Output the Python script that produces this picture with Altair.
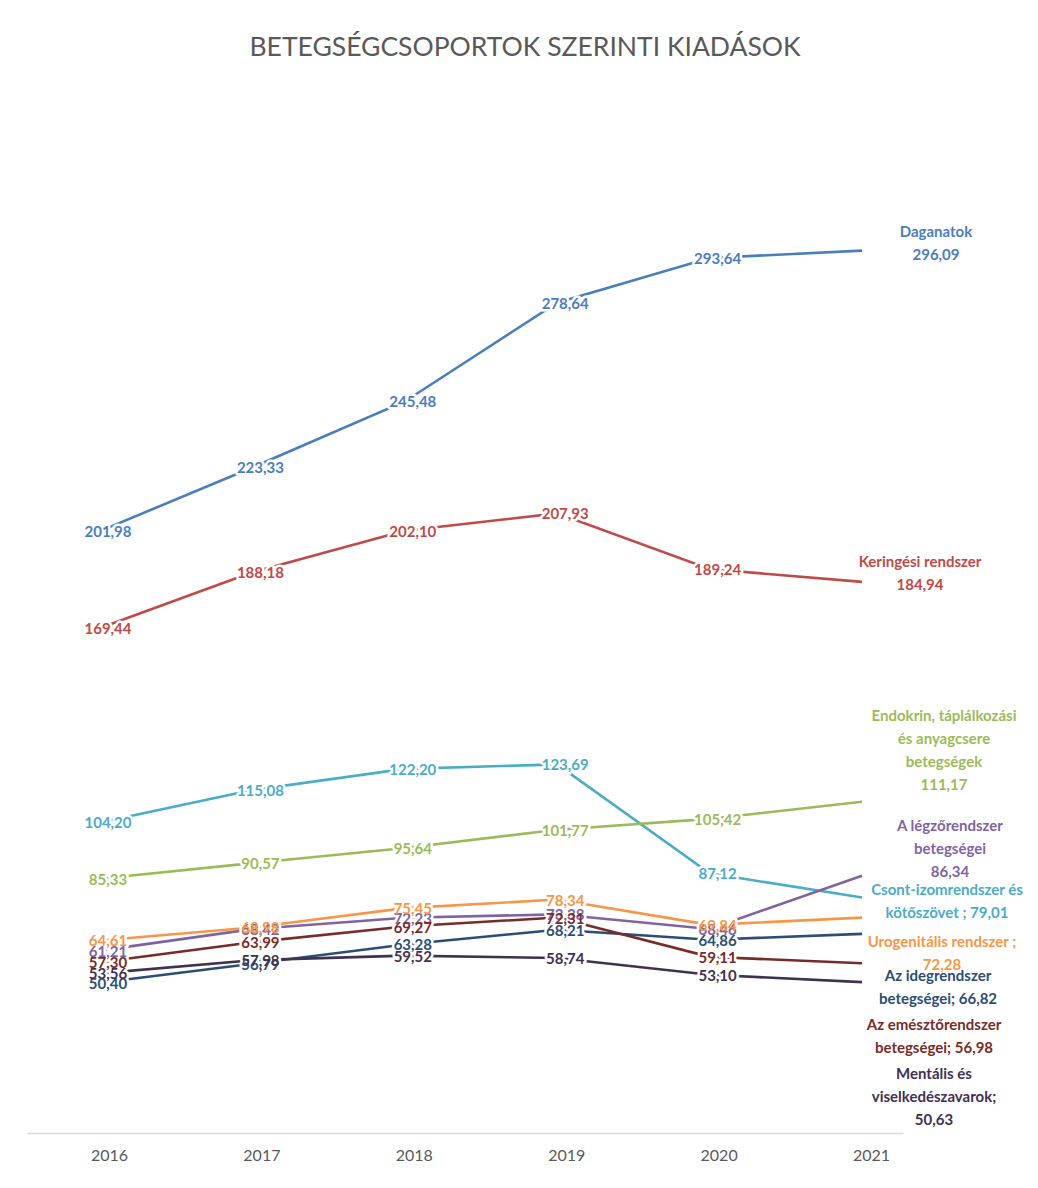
import altair as alt
import pandas as pd

# ---------------- data ----------------
years = [2016, 2017, 2018, 2019, 2020, 2021]

series_names = [
    "Daganatok",
    "Keringési rendszer",
    "Csont-izomrendszer és kötőszövet",
    "Endokrin, táplálkozási és anyagcsere betegségek",
    "A légzőrendszer betegségei",
    "Urogenitális rendszer",
    "Az idegrendszer betegségei",
    "Az emésztőrendszer betegségei",
    "Mentális és viselkedészavarok",
]

daganatok = [201.98, 223.33, 245.48, 278.64, 293.64, 296.09]
keringesi = [169.44, 188.18, 202.10, 207.93, 189.24, 184.94]
csont = [104.20, 115.08, 122.20, 123.69, 87.12, 79.01]
endokrin = [85.33, 90.57, 95.64, 101.77, 105.42, 111.17]
legzo = [61.21, 68.42, 72.23, 73.38, 68.46, 86.34]
uro = [64.61, 68.98, 75.45, 78.34, 69.84, 72.28]
ideg = [50.40, 56.79, 63.28, 68.21, 64.86, 66.82]
emeszto = [57.30, 63.99, 69.27, 72.31, 59.11, 56.98]
mentalis = [53.56, 57.98, 59.52, 58.74, 53.10, 50.63]

values = [daganatok, keringesi, csont, endokrin, legzo, uro, ideg, emeszto, mentalis]

# end-of-line label texts (lines separated by \n)
end_texts = [
    "Daganatok\n296,09",
    "Keringési rendszer\n184,94",
    "Csont-izomrendszer és\nkötőszövet ; 79,01",
    "Endokrin, táplálkozási\nés anyagcsere\nbetegségek\n111,17",
    "A légzőrendszer\nbetegségei\n86,34",
    "Urogenitális rendszer ;\n72,28",
    "Az idegrendszer\nbetegségei; 66,82",
    "Az emésztőrendszer\nbetegségei; 56,98",
    "Mentális és\nviselkedészavarok;\n50,63",
]

colors = [
    "#4a7ebb",  # Daganatok
    "#be4b48",  # Keringési
    "#4bacc6",  # Csont-izom
    "#9bbb59",  # Endokrin
    "#8064a2",  # Légző
    "#f79646",  # Uro
    "#2c4d75",  # Ideg
    "#772c2a",  # Emésztő
    "#3f3151",  # Mentális
]

# ---------------- styling (pixel offsets of the end-label block centres) ----------------
LINE_H = 23
end_offsets = {
    "Daganatok": (74, -7),
    "Keringési rendszer": (58, -8),
    "Csont-izomrendszer és kötőszövet": (85, 4),
    "Endokrin, táplálkozási és anyagcsere betegségek": (82, -51),
    "A légzőrendszer betegségei": (88, -27),
    "Urogenitális rendszer": (80, 36),
    "Az idegrendszer betegségei": (76, 54),
    "Az emésztőrendszer betegségei": (72, 73),
    "Mentális és viselkedészavarok": (72, 115),
}

rows = []
for name, vals in zip(series_names, values):
    for yr, v in zip(years, vals):
        rows.append({
            "series": name,
            "year": yr,
            "value": v,
            "label": f"{v:.2f}".replace(".", ","),
        })
df = pd.DataFrame(rows)

end_df = pd.DataFrame({
    "series": series_names,
    "year": [years[-1]] * len(series_names),
    "value": [v[-1] for v in values],
    "text": end_texts,
})

FONT = "Lato"
color_scale = alt.Scale(domain=series_names, range=colors)

x_enc = alt.X(
    "year:Q",
    scale=alt.Scale(domain=[2015.521, 2021.269], nice=False, zero=False),
    axis=alt.Axis(
        values=years, format="d", ticks=False, grid=False,
        domainColor="#d9d9d9", domainWidth=1.5,
        labelColor="#595959", labelFontSize=16, labelFont=FONT,
        labelPadding=14, labelOffset=9, title=None,
    ),
)
y_enc = alt.Y("value:Q", scale=alt.Scale(domain=[0, 350], nice=False), axis=None)

base = alt.Chart(df).encode(x=x_enc, y=y_enc)

lines = base.mark_line(strokeWidth=2.6).encode(
    color=alt.Color("series:N", scale=color_scale, legend=None),
    order=alt.Order("year:Q"),
)

pts = base.transform_filter(alt.datum.year < 2021)

halo = pts.mark_text(
    font=FONT, fontWeight="bold", fontSize=15, dx=8, dy=1,
    stroke="white", strokeWidth=5, strokeJoin="round",
).encode(text="label:N", color=alt.value("white"))

labels = pts.mark_text(
    font=FONT, fontWeight="bold", fontSize=15, dx=8, dy=1,
).encode(
    text="label:N",
    color=alt.Color("series:N", scale=color_scale, legend=None),
)

end_layers = []
for name, txt in zip(series_names, end_texts):
    dx, dy = end_offsets[name]
    n_lines = txt.count("\n") + 1
    dy_first = dy - (n_lines - 1) * LINE_H / 2
    end_layers.append(
        alt.Chart(end_df)
        .transform_filter(alt.datum.series == name)
        .mark_text(
            font=FONT, fontWeight="bold", fontSize=15, lineHeight=LINE_H,
            lineBreak="\n", align="center", baseline="middle",
            dx=dx, dy=dy_first,
        )
        .encode(
            x=x_enc, y=y_enc, text="text:N",
            color=alt.Color("series:N", scale=color_scale, legend=None),
        )
    )

chart = alt.layer(lines, halo, labels, *end_layers).properties(
    width=876,
    height=1043,
    padding={"left": 27, "top": 90, "right": 135, "bottom": 55},
    autosize=alt.AutoSizeParams(type="none"),
    title=alt.TitleParams(
        "BETEGSÉGCSOPORTOK SZERINTI KIADÁSOK",
        font=FONT, fontSize=26.5, fontWeight="normal", color="#595959",
        anchor="middle", baseline="alphabetic", offset=8, dx=60,
    ),
    background="white",
).configure_view(stroke=None)

chart.save("out.html", embed_options={"renderer": "svg", "actions": False})
